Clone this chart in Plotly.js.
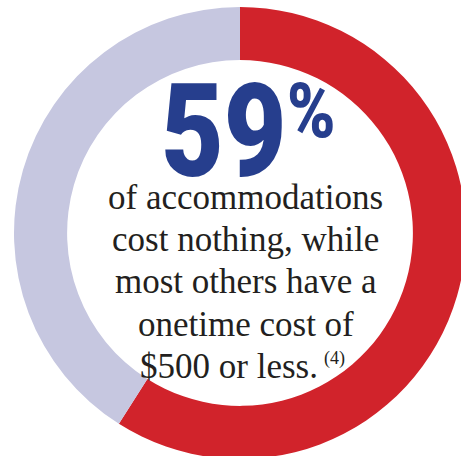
<!DOCTYPE html>
<html>
<head>
<meta charset="utf-8">
<script src="https://cdn.plot.ly/plotly-3.0.1.min.js"></script>
<style>
html,body{margin:0;padding:0;overflow:hidden;background:#fff;}
#chart{width:480px;height:466px;}
</style>
</head>
<body>
<div id="chart"></div>
<script>
const labels = ["Cost nothing", "Other"];
const values = [59, 41];
const colors = ["#D1232B", "#C6C7E0"];
const headline = "59";
const headlineUnit = "%";
const bodyLines = ["of accommodations", "cost nothing, while", "most others have a", "onetime cost of", "$500 or less."];
const footnote = "(4)";

const W = 480, H = 466;
const px = x => x / W;
const py = y => 1 - y / H;
const heavy = "Roboto, DejaVu Sans, sans-serif";
const serif = "Liberation Serif, Times New Roman, serif";

const annotations = [];
const squeezeBy = {};
squeezeBy[annotations.length] = 0.84;
annotations.push({
  text: headline, xref: "paper", yref: "paper", x: px(224), y: py(131),
  xanchor: "center", yanchor: "middle", showarrow: false,
  font: {family: heavy, size: 129, color: "#263E8D", weight: 900}
});
squeezeBy[annotations.length] = 0.86;
annotations.push({
  text: headlineUnit, xref: "paper", yref: "paper", x: px(310.5), y: py(111),
  xanchor: "center", yanchor: "middle", showarrow: false,
  font: {family: heavy, size: 76, color: "#263E8D", weight: 900}
});
const lineCenters = [197, 239, 281, 324, 366];
bodyLines.forEach((t, i) => {
  annotations.push({
    text: t, xref: "paper", yref: "paper", x: px(i === 4 ? 229 : 246), y: py(lineCenters[i]),
    xanchor: "center", yanchor: "middle", showarrow: false,
    font: {family: serif, size: 35, color: "#231F20"}
  });
});
annotations.push({
  text: footnote, xref: "paper", yref: "paper", x: px(334), y: py(358),
  xanchor: "center", yanchor: "middle", showarrow: false,
  font: {family: serif, size: 18, color: "#231F20"}
});

function squeeze() {
  document.querySelectorAll("#chart g.annotation").forEach(g => {
    const i = +g.getAttribute("data-index");
    const s = squeezeBy[i];
    if (!s) return;
    const t = g.querySelector("text");
    const r = t.getBoundingClientRect();
    const cx = r.left + r.width / 2, cy = r.top + r.height / 2;
    g.setAttribute("transform", `translate(${cx},${cy}) scale(${s},1) translate(${-cx},${-cy})`);
  });
}

Plotly.newPlot("chart", [{
  type: "pie",
  labels: labels,
  values: values,
  sort: false,
  direction: "clockwise",
  rotation: 0,
  hole: 0.765,
  textinfo: "none",
  hoverinfo: "none",
  marker: {colors: colors, line: {width: 0}},
  domain: {x: [0, 1], y: [7 / H, 1 - 7 / H]},
  showlegend: false
}], {
  width: W, height: H,
  margin: {l: 0, r: 0, t: 0, b: 0, pad: 0},
  paper_bgcolor: "#ffffff",
  plot_bgcolor: "#ffffff",
  showlegend: false,
  annotations: annotations
}, {staticPlot: true, displayModeBar: false}).then(squeeze);
</script>
</body>
</html>
